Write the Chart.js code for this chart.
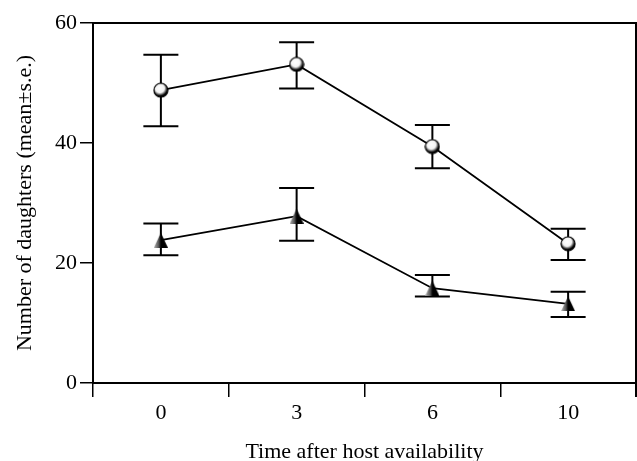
<!DOCTYPE html>
<html>
<head>
<meta charset="utf-8">
<script src="https://cdn.jsdelivr.net/npm/chart.js@4.4.1/dist/chart.umd.min.js"></script>
<style>
  html, body { margin: 0; padding: 0; background: #fff; }
</style>
</head>
<body>
<canvas id="chart01" width="637" height="461"></canvas>
<script>
// values
const times = ['0', '3', '6', '10'];
const circleMean = [48.8, 53.1, 39.4, 23.2];
const circleHigh = [54.7, 56.8, 43.0, 25.7];
const circleLow = [42.8, 49.1, 35.8, 20.5];
const triMean = [23.8, 27.8, 15.8, 13.2];
const triHigh = [26.6, 32.5, 18.0, 15.2];
const triLow = [21.3, 23.7, 14.4, 11.0];
const yTicks = [0, 20, 40, 60];

const serif = { family: 'Liberation Serif', size: 22 };

// shaded ball marker
function makeBall(r) {
  var c = document.createElement('canvas');
  var s = r * 2 + 2;
  c.width = s; c.height = s;
  var g = c.getContext('2d');
  var cx = s / 2, cy = s / 2;
  var grad = g.createRadialGradient(cx - 1, cy - 2, 0, cx - 1, cy - 2, r + 2);
  grad.addColorStop(0, '#ffffff');
  grad.addColorStop(0.5, '#f4f4f4');
  grad.addColorStop(0.72, '#555555');
  grad.addColorStop(0.85, '#000000');
  g.beginPath();
  g.arc(cx, cy, r, 0, Math.PI * 2);
  g.fillStyle = grad;
  g.fill();
  g.lineWidth = 1.2;
  g.strokeStyle = '#000';
  g.stroke();
  return c;
}

// triangle marker, grey on the left side
function makeTri(w, h) {
  var c = document.createElement('canvas');
  c.width = w; c.height = h;
  var g = c.getContext('2d');
  var grad = g.createLinearGradient(0, 0, w, 0);
  grad.addColorStop(0, '#b0b0b0');
  grad.addColorStop(0.35, '#555555');
  grad.addColorStop(0.5, '#000000');
  grad.addColorStop(1, '#000000');
  g.beginPath();
  g.moveTo(w / 2, 0);
  g.lineTo(w, h);
  g.lineTo(0, h);
  g.closePath();
  g.fillStyle = grad;
  g.fill();
  return c;
}

const errorBars = {
  id: 'errorBars',
  beforeDatasetsDraw(chart) {
    var ctx = chart.ctx, y = chart.scales.y;
    chart.data.datasets.forEach(function (ds, di) {
      var meta = chart.getDatasetMeta(di);
      meta.data.forEach(function (pt, i) {
        var top = y.getPixelForValue(ds.errHigh[i]);
        var bot = y.getPixelForValue(ds.errLow[i]);
        ctx.save();
        ctx.strokeStyle = '#000';
        ctx.lineWidth = 2;
        ctx.beginPath();
        ctx.moveTo(pt.x, top); ctx.lineTo(pt.x, bot);
        ctx.moveTo(pt.x - 17.5, top); ctx.lineTo(pt.x + 17.5, top);
        ctx.moveTo(pt.x - 17.5, bot); ctx.lineTo(pt.x + 17.5, bot);
        ctx.stroke();
        ctx.restore();
      });
    });
  }
};

// top and right sides of the box
const frame = {
  id: 'frame',
  afterDraw(chart) {
    var ctx = chart.ctx, a = chart.chartArea;
    ctx.save();
    ctx.strokeStyle = '#000';
    ctx.lineWidth = 2;
    ctx.beginPath();
    ctx.moveTo(a.left - 1, a.top);
    ctx.lineTo(a.right, a.top);
    ctx.lineTo(a.right, a.bottom + 14);
    ctx.stroke();
    ctx.restore();
  }
};

var ctx = document.getElementById('chart01').getContext('2d');
var myChart = new Chart(ctx, {
  type: 'line',
  data: {
    labels: times,
    datasets: [{
      label: 'circles',
      data: circleMean,
      errHigh: circleHigh,
      errLow: circleLow,
      borderColor: '#000',
      borderWidth: 1.8,
      pointStyle: makeBall(7),
      tension: 0,
      fill: false
    }, {
      label: 'triangles',
      data: triMean,
      errHigh: triHigh,
      errLow: triLow,
      borderColor: '#000',
      borderWidth: 1.8,
      pointStyle: makeTri(14, 15),
      tension: 0,
      fill: false
    }]
  },
  options: {
    responsive: false,
    animation: false,
    events: [],
    layout: { autoPadding: false, padding: { top: 23, right: 1, left: 0, bottom: 0 } },
    plugins: { legend: { display: false }, tooltip: { enabled: false } },
    scales: {
      x: {
        type: 'category',
        offset: true,
        grid: { offset: true, drawOnChartArea: false, tickLength: 14, color: '#000', lineWidth: 1.5 },
        border: { color: '#000', width: 2 },
        ticks: { color: '#000', font: serif, padding: 3, maxRotation: 0 },
        title: { display: true, text: 'Time after host availability', color: '#000', font: serif, padding: { top: 0, bottom: -4 } },
        afterFit: function (s) {
          s.height = 78;
          s.paddingLeft = 0;
          s.paddingRight = 0;
        }
      },
      y: {
        min: 0,
        max: 60,
        afterBuildTicks: function (s) { s.ticks = yTicks.map(function (v) { return { value: v }; }); },
        grid: { drawOnChartArea: false, tickLength: 13, color: '#000', lineWidth: 1.5 },
        border: { color: '#000', width: 2 },
        ticks: { color: '#000', font: serif, padding: 3 },
        title: { display: true, text: 'Number of daughters (mean±s.e.)', color: '#000', font: serif, padding: { top: 12, bottom: 0 } },
        afterFit: function (s) { s.width = 93; }
      }
    }
  },
  plugins: [errorBars, frame]
});
</script>
</body>
</html>
